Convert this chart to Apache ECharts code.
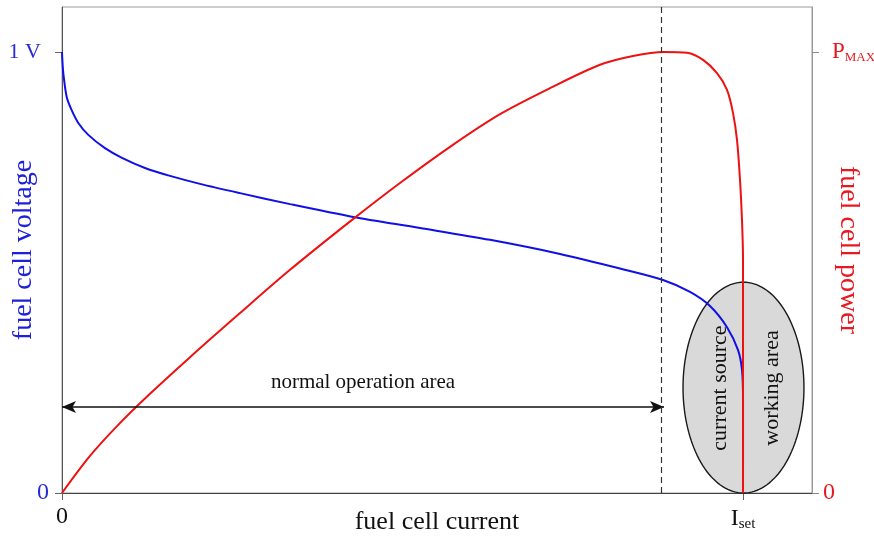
<!DOCTYPE html>
<html><head><meta charset="utf-8">
<script src="https://cdn.jsdelivr.net/npm/echarts@6/dist/echarts.min.js"></script>
<style>html,body{margin:0;padding:0;background:#fff}#c{width:874px;height:541px}</style>
</head><body><div id="c"></div>
<script>
// fuel cell current (normalised, I_set = 1)
const voltI = [0, 0.0007, 0.0019, 0.0069, 0.0142, 0.0239, 0.0386, 0.0631, 0.0881, 0.1219, 0.1586, 0.2026, 0.2614, 0.3348, 0.4273, 0.5257, 0.6285, 0.7313, 0.8194, 0.8825, 0.9222, 0.9515, 0.9765, 0.9927, 0.9985, 1.0, 1.0];
// fuel cell voltage (normalised, 1 V = 1)
const voltV = [1.000, 0.977, 0.952, 0.898, 0.868, 0.839, 0.812, 0.782, 0.760, 0.737, 0.719, 0.701, 0.680, 0.655, 0.626, 0.601, 0.574, 0.542, 0.509, 0.483, 0.456, 0.424, 0.376, 0.324, 0.279, 0.211, 0.059];
const powerI = [0, 0.0411, 0.0822, 0.1292, 0.1880, 0.2614, 0.3348, 0.4273, 0.4963, 0.5698, 0.6432, 0.7166, 0.7900, 0.8385, 0.8840, 0.9178, 0.9413, 0.9618, 0.9765, 0.9853, 0.9912, 0.9956, 0.9985, 1.0, 1.0];
// fuel cell power (normalised, P_MAX = 1)
const powerP = [0, 0.084, 0.154, 0.225, 0.308, 0.408, 0.506, 0.621, 0.703, 0.785, 0.859, 0.918, 0.971, 0.991, 1.000, 0.998, 0.982, 0.952, 0.914, 0.862, 0.800, 0.710, 0.619, 0.528, 0];
const xTickValues = [0, 1];
const xTickLabels = ['0', '{b|I}{s|set}'];
const leftTickValues = [0, 1];
const leftTickLabels = ['0', '{v|1 V}'];
const rightTickValues = [0, 1];
const rightTickLabels = ['0', '{p|P}{s|MAX}'];
const pmaxCurrent = 0.884;
const normalAreaLevel = 0.195;

const serif = "'Liberation Serif','DejaVu Serif','Times New Roman',serif";
const BLUE = '#1010e6', RED = '#ee1111';
const chart = echarts.init(document.getElementById('c'), null, {renderer: 'canvas'});

const option = {
  animation: false,
  grid: {left: 62, right: 62, top: 7, bottom: 48, containLabel: false, outerBoundsMode: 'none',
    show: true, borderColor: '#9a9a9a', borderWidth: 1},
  xAxis: {
    type: 'value', min: 0, max: 1.1013,
    name: 'fuel cell current', nameLocation: 'middle', nameGap: 16, nameMoveOverlap: false,
    nameTextStyle: {fontFamily: serif, fontSize: 26, color: '#111'},
    axisLine: {lineStyle: {color: '#444', width: 1}},
    splitLine: {show: false},
    axisTick: {customValues: xTickValues, length: 7, lineStyle: {color: '#666'}},
    axisLabel: {
      customValues: xTickValues, margin: 12, color: '#111', fontFamily: serif, fontSize: 24,
      formatter: v => xTickLabels[xTickValues.indexOf(v)],
      rich: {b: {fontFamily: serif, fontSize: 24, color: '#111'}, s: {fontFamily: serif, fontSize: 15, color: '#111', padding: [12, 0, 0, 0]}}
    }
  },
  yAxis: [{
    type: 'value', min: 0, max: 1.102, position: 'left',
    name: 'fuel cell voltage', nameLocation: 'middle', nameGap: 24, nameMoveOverlap: false,
    nameTextStyle: {fontFamily: serif, fontSize: 28, color: '#2020d8'},
    axisLine: {show: true, lineStyle: {color: '#555', width: 1}},
    splitLine: {show: false},
    axisTick: {show: true, customValues: leftTickValues, length: 7, lineStyle: {color: '#666'}},
    axisLabel: {
      customValues: leftTickValues, margin: 13, color: '#2a2ad6', fontFamily: serif, fontSize: 24,
      formatter: v => leftTickLabels[leftTickValues.indexOf(v)],
      rich: {v: {fontFamily: serif, fontSize: 22, color: '#2a2ad6', padding: [0, 8, 0, 0]}}
    }
  }, {
    type: 'value', min: 0, max: 1.102, position: 'right',
    name: 'fuel cell power', nameLocation: 'middle', nameGap: 22, nameRotate: -90, nameMoveOverlap: false,
    nameTextStyle: {fontFamily: serif, fontSize: 28, color: '#e81820'},
    axisLine: {show: true, lineStyle: {color: '#999', width: 1}},
    splitLine: {show: false},
    axisTick: {show: true, customValues: rightTickValues, length: 7, lineStyle: {color: '#888'}},
    axisLabel: {
      customValues: rightTickValues, margin: 11, color: '#e81820', fontFamily: serif, fontSize: 24,
      formatter: v => rightTickLabels[rightTickValues.indexOf(v)],
      rich: {p: {fontFamily: serif, fontSize: 23, color: '#e81820', padding: [0, 0, 0, 9]}, s: {fontFamily: serif, fontSize: 13, color: '#e81820', padding: [11, 0, 0, 0]}}
    }
  }],
  series: [
    {
      type: 'custom', name: 'ellipse', z: 1, clip: false, xAxisIndex: 0, yAxisIndex: 0,
      data: [[1.0007, 0.239, 0.0888, 0.239]],
      renderItem: (params, api) => {
        const c = api.coord([api.value(0), api.value(1)]);
        const s = api.size([api.value(2), api.value(3)]);
        const pts = [];
        for (let k = 0; k < 144; k++) {
          const t = k / 144 * 2 * Math.PI;
          pts.push([c[0] + s[0] * Math.cos(t), c[1] + s[1] * Math.sin(t)]);
        }
        return {type: 'polygon', shape: {points: pts}, style: {fill: '#d9d9d9', stroke: '#1a1a1a', lineWidth: 1.4}};
      }
    },
    {
      type: 'line', name: 'voltage', yAxisIndex: 0, z: 3, showSymbol: false, symbol: 'none',
      smooth: 0.3,
      data: voltI.map((x, i) => [x, voltV[i]]),
      lineStyle: {color: BLUE, width: 2},
      markLine: {
        silent: true, symbol: ['arrow', 'arrow'], symbolSize: [9, 14],
        lineStyle: {color: '#111', width: 1.5, type: 'solid'},
        label: {show: false},
        data: [[{coord: [0, normalAreaLevel]}, {coord: [pmaxCurrent, normalAreaLevel]}]]
      }
    },
    {
      type: 'line', name: 'power', yAxisIndex: 1, z: 4, showSymbol: false, symbol: 'none',
      smooth: 0.3,
      data: powerI.map((x, i) => [x, powerP[i]]),
      lineStyle: {color: RED, width: 2},
      markLine: {
        silent: true, symbol: ['none', 'none'],
        lineStyle: {color: '#333', width: 1.2, type: [6, 4]},
        label: {show: false},
        data: [{xAxis: pmaxCurrent}]
      }
    },
    {
      type: 'custom', name: 'notes', z: 5, clip: false, xAxisIndex: 0, yAxisIndex: 0,
      data: [[0.966, 0.238], [1.043, 0.238], [0.442, 0.250]],
      renderItem: (params, api) => {
        const texts = ['current source', 'working area', 'normal operation area'];
        const rots = [Math.PI / 2, Math.PI / 2, 0];
        const sizes = [22, 22, 21];
        const c = api.coord([api.value(0), api.value(1)]);
        const i = params.dataIndex;
        return {type: 'text', x: c[0], y: c[1], rotation: rots[i],
          style: {text: texts[i], fontFamily: serif, fontSize: sizes[i], fill: '#111', align: 'center', verticalAlign: 'middle'}};
      }
    }
  ]
};
chart.setOption(option);
</script>
</body></html>
